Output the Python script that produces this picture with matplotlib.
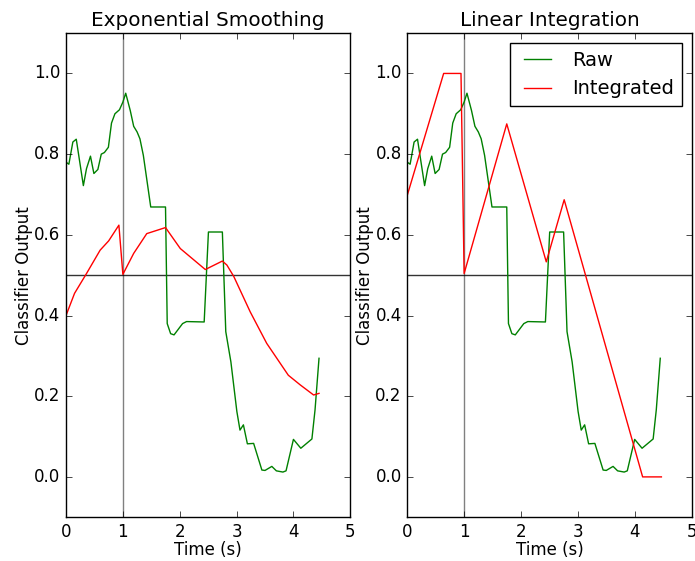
import matplotlib
matplotlib.use("Agg")
import matplotlib.pyplot as plt

# raw classifier output (shared by both panels)
t_raw = [0.0, 0.05, 0.12, 0.18, 0.305, 0.36, 0.43, 0.49, 0.56, 0.62, 0.675, 0.745,
         0.80, 0.86, 0.94, 1.0, 1.05, 1.13, 1.19, 1.25, 1.30, 1.36, 1.49, 1.75,
         1.78, 1.84, 1.90, 2.05, 2.12, 2.43, 2.505, 2.75, 2.81, 2.90, 3.005, 3.06,
         3.12, 3.19, 3.30, 3.445, 3.50, 3.62, 3.70, 3.815, 3.87, 4.00, 4.13, 4.325,
         4.38, 4.45]
raw = [0.780, 0.775, 0.830, 0.837, 0.722, 0.764, 0.795, 0.752, 0.762, 0.800, 0.804, 0.817,
       0.877, 0.900, 0.910, 0.929, 0.951, 0.908, 0.869, 0.855, 0.838, 0.797, 0.669, 0.669,
       0.380, 0.355, 0.352, 0.380, 0.385, 0.384, 0.607, 0.607, 0.360, 0.285, 0.162, 0.116,
       0.129, 0.082, 0.083, 0.017, 0.016, 0.026, 0.015, 0.012, 0.015, 0.093, 0.071, 0.094,
       0.166, 0.294]

# exponential smoothing
t_exp = [0.0, 0.15, 0.36, 0.60, 0.75, 0.93, 1.0, 1.19, 1.42, 1.75, 2.01, 2.45,
         2.75, 2.83, 2.95, 3.24, 3.53, 3.91, 4.12, 4.355, 4.45]
exp_smooth = [0.400, 0.455, 0.504, 0.562, 0.585, 0.624, 0.502, 0.554, 0.603, 0.618, 0.566, 0.514,
              0.535, 0.525, 0.497, 0.409, 0.331, 0.252, 0.228, 0.203, 0.207]

# linear integration
t_lin = [0.0, 0.64, 0.945, 1.0, 1.75, 2.445, 2.76, 4.14, 4.47]
lin_int = [0.698, 1.0, 1.0, 0.504, 0.875, 0.533, 0.687, 0.0, 0.0]

plt.style.use("classic")
fig = plt.figure(figsize=(6.95, 5.61), dpi=100)
fig.patch.set_facecolor("white")

ax1 = fig.add_axes([0.095, 0.078, 0.409, 0.863])
ax2 = fig.add_axes([0.586, 0.078, 0.409, 0.863])

for ax, t, y, title in [(ax1, t_exp, exp_smooth, "Exponential Smoothing"),
                        (ax2, t_lin, lin_int, "Linear Integration")]:
    ax.axvline(1.0, color="gray")
    ax.axhline(0.5, color="black", alpha=0.8)
    ax.plot(t_raw, raw, color="g", label="Raw")
    ax.plot(t, y, color="r", label="Integrated")
    ax.set_xlim(0, 5)
    ax.set_ylim(-0.1, 1.1)
    ax.set_yticks([0.0, 0.2, 0.4, 0.6, 0.8, 1.0])
    ax.set_title(title, fontsize=14.4)
    ax.set_xlabel("Time (s)", labelpad=0)
    ax.set_ylabel("Classifier Output", labelpad=1)

ax2.legend(loc="upper right", fontsize=14)

fig.savefig("out.png", dpi=100)
